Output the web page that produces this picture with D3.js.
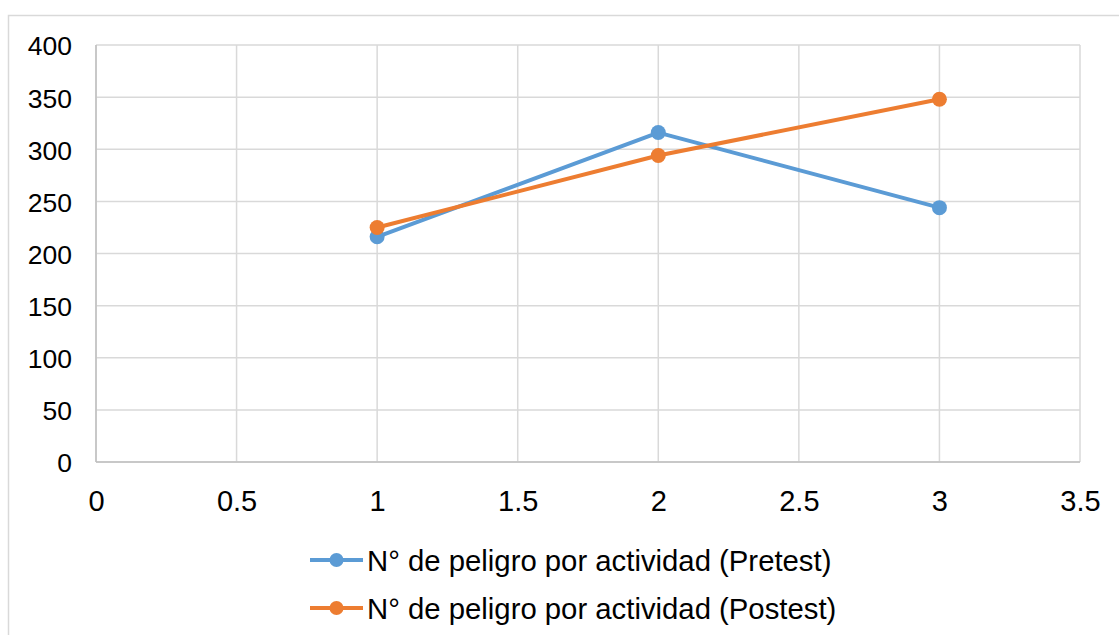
<!DOCTYPE html>
<html>
<head>
<meta charset="utf-8">
<script src="https://cdn.jsdelivr.net/npm/d3@7"></script>
<style>
  html, body { margin: 0; padding: 0; background: #fff; }
  svg { display: block; font-family: "Liberation Sans", Arial, sans-serif; }
</style>
</head>
<body>
<svg id="chart" width="1119" height="635"></svg>
<script>
// Series data: x position and hazard count per activity
const xValues = [1, 2, 3];
const pretest = [216, 316, 244];
const postest = [225, 294, 348];
const seriesNames = ["N° de peligro por actividad (Pretest)", "N° de peligro por actividad (Postest)"];
const seriesColors = ["#5B9BD5", "#ED7D31"];
const xTicks = [0, 0.5, 1, 1.5, 2, 2.5, 3, 3.5];
const yTicks = [0, 50, 100, 150, 200, 250, 300, 350, 400];

const svg = d3.select("#chart");
const W = 1119, H = 635;
const plot = { left: 96, right: 1080, top: 45, bottom: 462 };

// Outer chart frame
svg.append("rect")
  .attr("x", 8.5).attr("y", 15.5)
  .attr("width", W + 20).attr("height", H + 20)
  .attr("fill", "#fff").attr("stroke", "#d9d9d9").attr("stroke-width", 1.5);

const x = d3.scaleLinear().domain([0, 3.5]).range([plot.left, plot.right]);
const y = d3.scaleLinear().domain([0, 400]).range([plot.bottom, plot.top]);

// Gridlines
const grid = svg.append("g");
grid.selectAll(".hg").data(yTicks).join("line")
  .attr("x1", plot.left).attr("x2", plot.right)
  .attr("y1", d => y(d)).attr("y2", d => y(d))
  .attr("stroke", "#d9d9d9").attr("stroke-width", 1.5);
grid.selectAll(".vg").data(xTicks).join("line")
  .attr("x1", d => x(d)).attr("x2", d => x(d))
  .attr("y1", plot.top).attr("y2", plot.bottom)
  .attr("stroke", "#d9d9d9").attr("stroke-width", 1.5);

// Axis lines
svg.append("line")
  .attr("x1", plot.left).attr("x2", plot.left)
  .attr("y1", plot.top).attr("y2", plot.bottom)
  .attr("stroke", "#bfbfbf").attr("stroke-width", 1.5);
svg.append("line")
  .attr("x1", plot.left).attr("x2", plot.right)
  .attr("y1", plot.bottom).attr("y2", plot.bottom)
  .attr("stroke", "#bfbfbf").attr("stroke-width", 1.5);

// Axis labels via d3 axes (domain/ticks hidden)
const yAxis = svg.append("g")
  .attr("transform", `translate(${plot.left},1.5)`)
  .call(d3.axisLeft(y).tickValues(yTicks).tickSize(0).tickPadding(24).tickFormat(d3.format("d")));
yAxis.select(".domain").remove();
yAxis.attr("font-size", null).attr("font-family", null);
yAxis.selectAll("text").attr("font-size", 26.5).attr("fill", "#000");

const xAxis = svg.append("g")
  .attr("transform", `translate(0,${plot.bottom})`)
  .call(d3.axisBottom(x).tickValues(xTicks).tickSize(0).tickPadding(0).tickFormat(d => String(d)));
xAxis.select(".domain").remove();
xAxis.attr("font-size", null).attr("font-family", null);
xAxis.selectAll("text").attr("font-size", 29).attr("fill", "#000")
  .attr("dy", null).attr("y", 49);

// Series lines and markers
const allSeries = [pretest, postest];
const line = d3.line().x((d, i) => x(xValues[i])).y(d => y(d));
allSeries.forEach((vals, s) => {
  svg.append("path").datum(vals)
    .attr("d", line).attr("fill", "none")
    .attr("stroke", seriesColors[s]).attr("stroke-width", 4)
    .attr("stroke-linejoin", "round");
  svg.selectAll(null).data(vals).join("circle")
    .attr("cx", (d, i) => x(xValues[i])).attr("cy", d => y(d))
    .attr("r", 7.5).attr("fill", seriesColors[s]);
});

// Legend
const legend = svg.append("g");
seriesNames.forEach((name, i) => {
  const ly = 560 + i * 48;
  legend.append("line").attr("x1", 310).attr("x2", 363).attr("y1", ly).attr("y2", ly)
    .attr("stroke", seriesColors[i]).attr("stroke-width", 4);
  legend.append("circle").attr("cx", 336.5).attr("cy", ly).attr("r", 7).attr("fill", seriesColors[i]);
  legend.append("text").attr("x", 367).attr("y", ly).attr("dy", "0.36em")
    .attr("font-size", 29.3).attr("fill", "#000").text(name);
});
</script>
</body>
</html>
